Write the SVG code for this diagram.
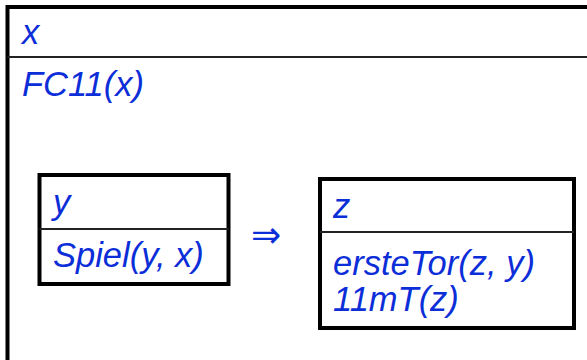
<svg xmlns="http://www.w3.org/2000/svg" width="587" height="360" viewBox="0 0 587 360">
<style>
.t{font-family:"Liberation Sans",Arial,sans-serif;font-style:italic;font-size:34.5px;fill:#0c2ed8}
.box{fill:#fff;stroke:#000;stroke-width:4}
.div{stroke:#222;stroke-width:2}
</style>
<rect width="587" height="360" fill="#fff"/>
<g id="outer">
<rect class="box" x="7.5" y="7" width="620" height="400"/>
<line class="div" x1="7.5" y1="57" x2="600" y2="57"/>
<text class="t" x="22" y="44">x</text>
<text class="t" x="22" y="96">FC11(x)</text>
</g>
<g id="node-y">
<rect class="box" x="39.5" y="175" width="189" height="109"/>
<line class="div" x1="39.5" y1="229" x2="228.5" y2="229"/>
<text class="t" x="53" y="214">y</text>
<text class="t" x="53" y="267">Spiel(y, x)</text>
</g>
<g id="connectors">
<text x="251" y="247" style="font-family:'DejaVu Sans',sans-serif;font-size:36px;fill:#0c2ed8">⇒</text>
</g>
<g id="node-z">
<rect class="box" x="320" y="179" width="254" height="149"/>
<line class="div" x1="320" y1="232" x2="574" y2="232"/>
<text class="t" x="333" y="218">z</text>
<text class="t" x="333" y="275">ersteTor(z, y)</text>
<text class="t" x="333" y="311">11mT(z)</text>
</g>
</svg>
